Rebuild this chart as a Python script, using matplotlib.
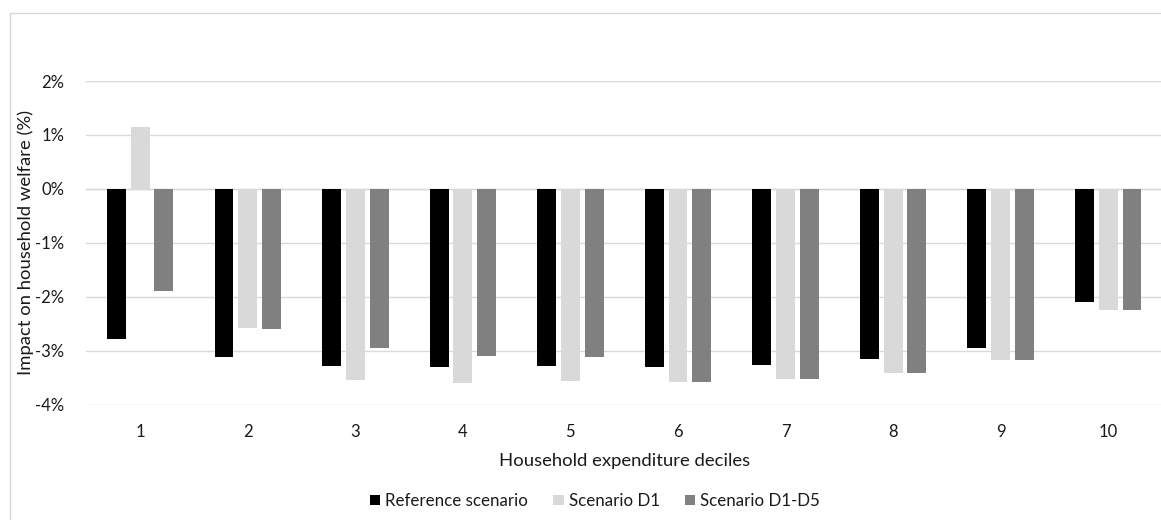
import numpy as np
import matplotlib
matplotlib.use("Agg")
import matplotlib.pyplot as plt
from matplotlib.patches import Rectangle
from matplotlib.ticker import FuncFormatter

plt.rcParams["font.family"] = ["Lato", "DejaVu Sans"]
plt.rcParams["axes.unicode_minus"] = False

deciles = ["1", "2", "3", "4", "5", "6", "7", "8", "9", "10"]
reference = [-2.79, -3.12, -3.28, -3.31, -3.29, -3.30, -3.27, -3.16, -2.95, -2.10]
scenario_d1 = [1.15, -2.57, -3.54, -3.59, -3.56, -3.57, -3.52, -3.41, -3.18, -2.25]
scenario_d1_d5 = [-1.90, -2.60, -2.95, -3.09, -3.11, -3.57, -3.52, -3.41, -3.18, -2.25]

series = [
    ("Reference scenario", reference, "#000000"),
    ("Scenario D1", scenario_d1, "#D9D9D9"),
    ("Scenario D1-D5", scenario_d1_d5, "#808080"),
]

text_color = "#1a1a1a"
grid_color = "#D9D9D9"

fig = plt.figure(figsize=(11.61, 5.20), dpi=100)

# light chart-area frame, running off the right and bottom edges
fig.patches.append(Rectangle((10 / 1161, -0.1), 1.2, 1 - 13 / 520 + 0.1,
                             transform=fig.transFigure, fill=False,
                             edgecolor=grid_color, linewidth=1.0))

ax = fig.add_axes([86.4 / 1161, 115.3 / 520, 1075.6 / 1161, 323.7 / 520])

x = np.arange(len(deciles))
width = 0.176
step = 0.221
for i, (name, vals, color) in enumerate(series):
    ax.bar(x + (i - 1) * step, vals, width=width, color=color, label=name,
           zorder=3)

ax.set_xlim(-0.5, len(deciles) - 0.5)
ax.set_ylim(-4, 2)
ax.set_yticks(np.arange(-4, 3, 1))
ax.yaxis.set_major_formatter(FuncFormatter(lambda v, _: f"{v:.0f}%"))
ax.set_xticks(x)
ax.set_xticklabels(deciles)
ax.grid(axis="y", color=grid_color, linewidth=1.0, zorder=0)
ax.axhline(0, color=grid_color, linewidth=1.0, zorder=1)
for s in ax.spines.values():
    s.set_visible(False)
ax.tick_params(length=0, labelsize=12, colors=text_color)
ax.tick_params(axis="x", pad=14)
ax.tick_params(axis="y", pad=16)

ax.set_xlabel("Household expenditure deciles", fontsize=13.3,
              color=text_color, labelpad=9)
ax.set_ylabel("Impact on household welfare (%)", fontsize=13.3,
              color=text_color, labelpad=1)

fig.legend(loc="center", bbox_to_anchor=(595 / 1161, 1 - 501 / 520),
           ncol=3, frameon=False, fontsize=12.2, handlelength=0.6,
           handleheight=0.6, handletextpad=0.3, columnspacing=1.5,
           labelcolor=text_color)

fig.savefig("out.png", dpi=100)
